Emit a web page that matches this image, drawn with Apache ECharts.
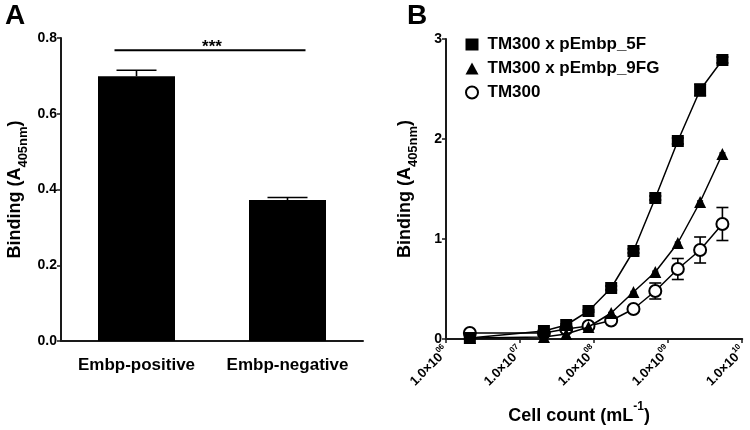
<!DOCTYPE html>
<html><head><meta charset="utf-8">
<script src="https://cdn.jsdelivr.net/npm/echarts@6/dist/echarts.min.js"></script>
<style>html,body{margin:0;padding:0;background:#fff}#c{width:750px;height:430px}</style>
</head><body><div id="c"></div>
<script>
// Panel A data
const catsA = ['Embp-positive', 'Embp-negative'];
const meanA = [0.699, 0.372];
const semA = [0.016, 0.007];
const sigA = 0.7675;

// Panel B data
const cellCounts = [2.1e6, 2.1e7, 4.2e7, 8.4e7, 1.7e8, 3.4e8, 6.7e8, 1.35e9, 2.7e9, 5.4e9];
const s5F  = [0.01, 0.08, 0.14, 0.28, 0.51, 0.88, 1.41, 1.98, 2.49, 2.79];
const e5F  = [0.01, 0.01, 0.01, 0.01, 0.02, 0.02, 0.02, 0.03, 0.06, 0.03];
const s9FG = [0.01, 0.02, 0.05, 0.12, 0.26, 0.47, 0.67, 0.96, 1.37, 1.85];
const e9FG = [0.003, 0.003, 0.003, 0.005, 0.005, 0.005, 0.008, 0.008, 0.01, 0.01];
const sTM  = [0.06, 0.06, 0.10, 0.13, 0.185, 0.30, 0.48, 0.70, 0.89, 1.15];
const eTM  = [0.01, 0.01, 0.01, 0.01, 0.01, 0.02, 0.08, 0.105, 0.13, 0.165];
const namesB = ['TM300 x pEmbp_5F', 'TM300 x pEmbp_9FG', 'TM300'];

const FONT = 'Liberation Sans, Arial, sans-serif';
const AX = '#1a1a1a';

function pairs(xs, ys) { return xs.map((x, i) => [x, ys[i]]); }
function errData(xs, ys, es) { return xs.map((x, i) => [x, ys[i], es[i]]); }

function errRender(capHalf, both) {
  return function (params, api) {
    const x = api.value(0), y = api.value(1), e = api.value(2);
    const top = api.coord([x, y + e]);
    const bot = both ? api.coord([x, y - e]) : api.coord([x, y]);
    const st = { stroke: '#000', lineWidth: 1.6 };
    const ch = [
      { type: 'line', shape: { x1: top[0], y1: top[1], x2: bot[0], y2: bot[1] }, style: st },
      { type: 'line', shape: { x1: top[0] - capHalf, y1: top[1], x2: top[0] + capHalf, y2: top[1] }, style: st }
    ];
    if (both) ch.push({ type: 'line', shape: { x1: bot[0] - capHalf, y1: bot[1], x2: bot[0] + capHalf, y2: bot[1] }, style: st });
    return { type: 'group', children: ch };
  };
}

const nameRich = {
  a: { fontSize: 18, fontWeight: 'bold', color: '#000', fontFamily: FONT, lineHeight: 24, verticalAlign: 'top' },
  s: { fontSize: 13, fontWeight: 'bold', color: '#000', fontFamily: FONT, lineHeight: 24, verticalAlign: 'bottom' }
};

const chart = echarts.init(document.getElementById('c'), null, { renderer: 'canvas' });
const option = {
  animation: false,
  backgroundColor: '#fff',
  textStyle: { fontFamily: FONT },
  title: [
    { text: 'A', left: 0, top: -3, textStyle: { fontSize: 28, fontWeight: 'bold', color: '#000', fontFamily: FONT } },
    { text: 'B', left: 402, top: -3, textStyle: { fontSize: 28, fontWeight: 'bold', color: '#000', fontFamily: FONT } }
  ],
  legend: {
    orient: 'vertical', left: 460, top: 31, itemGap: 7, itemWidth: 13, itemHeight: 12,
    data: [
      { name: namesB[0], icon: 'rect' },
      { name: namesB[1], icon: 'triangle' },
      { name: namesB[2], icon: 'emptyCircle' }
    ],
    textStyle: { fontSize: 17, fontWeight: 'bold', color: '#000', fontFamily: FONT, padding: [0, 0, 0, 4] },
    itemStyle: { borderWidth: 1.5 }
  },
  grid: [
    { left: 61, top: 38, width: 302, height: 303 },
    { left: 446, top: 39, width: 302, height: 304 }
  ],
  xAxis: [
    {
      gridIndex: 0, type: 'category', data: catsA,
      axisLine: { lineStyle: { color: AX, width: 2 } },
      axisTick: { alignWithLabel: true, length: 4, lineStyle: { color: AX, width: 1.5 } },
      axisLabel: { interval: 0, color: '#000', fontSize: 17, fontWeight: 'bold', margin: 16, fontFamily: FONT }
    },
    {
      gridIndex: 1, type: 'log', logBase: 10, min: 1e6, max: 1e10,
      axisLine: { onZero: false, lineStyle: { color: AX, width: 2 } },
      axisTick: { length: 4, lineStyle: { color: AX, width: 1.5 } },
      minorTick: { show: false }, splitLine: { show: false },
      axisLabel: {
        rotate: 45, margin: 9, color: '#000', fontFamily: FONT,
        formatter: function (v) {
          const ex = Math.round(Math.log10(v));
          return '{a|1.0×10}{s|' + String(ex).padStart(2, '0') + '}';
        },
        rich: {
          a: { fontSize: 13, fontWeight: 'bold', color: '#000', fontFamily: FONT, lineHeight: 16, verticalAlign: 'bottom' },
          s: { fontSize: 8, fontWeight: 'bold', color: '#000', fontFamily: FONT, lineHeight: 9, verticalAlign: 'top' }
        }
      },
      name: '{a|Cell count (mL}{s|-1}{a|)}         ', nameLocation: 'middle', nameGap: 62,
      nameTextStyle: {
        rich: {
          a: { fontSize: 18, fontWeight: 'bold', color: '#000', fontFamily: FONT, lineHeight: 24, verticalAlign: 'bottom' },
          s: { fontSize: 12, fontWeight: 'bold', color: '#000', fontFamily: FONT, lineHeight: 14, verticalAlign: 'top' }
        }
      }
    }
  ],
  yAxis: [
    {
      gridIndex: 0, type: 'value', min: 0, max: 0.8, interval: 0.2,
      axisLine: { show: true, lineStyle: { color: AX, width: 2 } },
      axisTick: { show: true, length: 4, lineStyle: { color: AX, width: 1.5 } },
      splitLine: { show: false },
      axisLabel: { color: '#000', fontSize: 14, fontWeight: 'bold', margin: 4, fontFamily: FONT,
        formatter: v => v.toFixed(1) },
      name: '{a|Binding (A}{s|405nm}{a|)}', nameLocation: 'middle', nameGap: 31, nameRotate: 90,
      nameTextStyle: { rich: nameRich }
    },
    {
      gridIndex: 1, type: 'value', min: 0, max: 3, interval: 1,
      axisLine: { show: true, lineStyle: { color: AX, width: 2 } },
      axisTick: { show: true, length: 4, lineStyle: { color: AX, width: 1.5 } },
      splitLine: { show: false },
      axisLabel: { color: '#000', fontSize: 14, fontWeight: 'bold', margin: 4, fontFamily: FONT },
      name: '{a|Binding (A}{s|405nm}{a|)}', nameLocation: 'middle', nameGap: 26, nameRotate: 90,
      nameTextStyle: { rich: nameRich }
    }
  ],
  series: [
    {
      type: 'bar', xAxisIndex: 0, yAxisIndex: 0, data: meanA, barWidth: 77,
      itemStyle: { color: '#000' }, z: 2
    },
    {
      type: 'custom', xAxisIndex: 0, yAxisIndex: 0, z: 3,
      data: catsA.map((c, i) => [i, meanA[i], semA[i]]),
      renderItem: errRender(20, false)
    },
    {
      type: 'custom', xAxisIndex: 0, yAxisIndex: 0, z: 3,
      data: [[0, 1, sigA]],
      renderItem: function (params, api) {
        const v = api.value(2);
        const p0 = api.coord([api.value(0), v]);
        const p1 = api.coord([api.value(1), v]);
        return { type: 'group', children: [
          { type: 'line', shape: { x1: p0[0] - 22, y1: p0[1], x2: p1[0] + 18, y2: p1[1] }, style: { stroke: '#000', lineWidth: 2 } },
          { type: 'text', style: { text: '***', x: (p0[0] + p1[0]) / 2, y: p0[1] - 3, align: 'center', verticalAlign: 'middle',
            fontSize: 17, fontWeight: 'bold', fill: '#000', fontFamily: FONT } }
        ] };
      }
    },
    { type: 'custom', xAxisIndex: 1, yAxisIndex: 1, z: 1, data: errData(cellCounts, sTM, eTM), renderItem: errRender(6, true) },
    { type: 'custom', xAxisIndex: 1, yAxisIndex: 1, z: 1, data: errData(cellCounts, s9FG, e9FG), renderItem: errRender(3, true) },
    { type: 'custom', xAxisIndex: 1, yAxisIndex: 1, z: 1, data: errData(cellCounts, s5F, e5F), renderItem: errRender(6, true) },
    {
      name: namesB[2], type: 'line', xAxisIndex: 1, yAxisIndex: 1, data: pairs(cellCounts, sTM),
      symbol: 'emptyCircle', symbolSize: 12, z: 4,
      lineStyle: { color: '#000', width: 1.5 }, itemStyle: { color: '#000', borderWidth: 1.8 }
    },
    {
      name: namesB[1], type: 'line', xAxisIndex: 1, yAxisIndex: 1, data: pairs(cellCounts, s9FG),
      symbol: 'triangle', symbolSize: 12, z: 5,
      lineStyle: { color: '#000', width: 1.5 }, itemStyle: { color: '#000' }
    },
    {
      name: namesB[0], type: 'line', xAxisIndex: 1, yAxisIndex: 1, data: pairs(cellCounts, s5F),
      symbol: 'rect', symbolSize: 12, z: 6,
      lineStyle: { color: '#000', width: 1.5 }, itemStyle: { color: '#000' }
    }
  ]
};
chart.setOption(option);
</script>
</body></html>
